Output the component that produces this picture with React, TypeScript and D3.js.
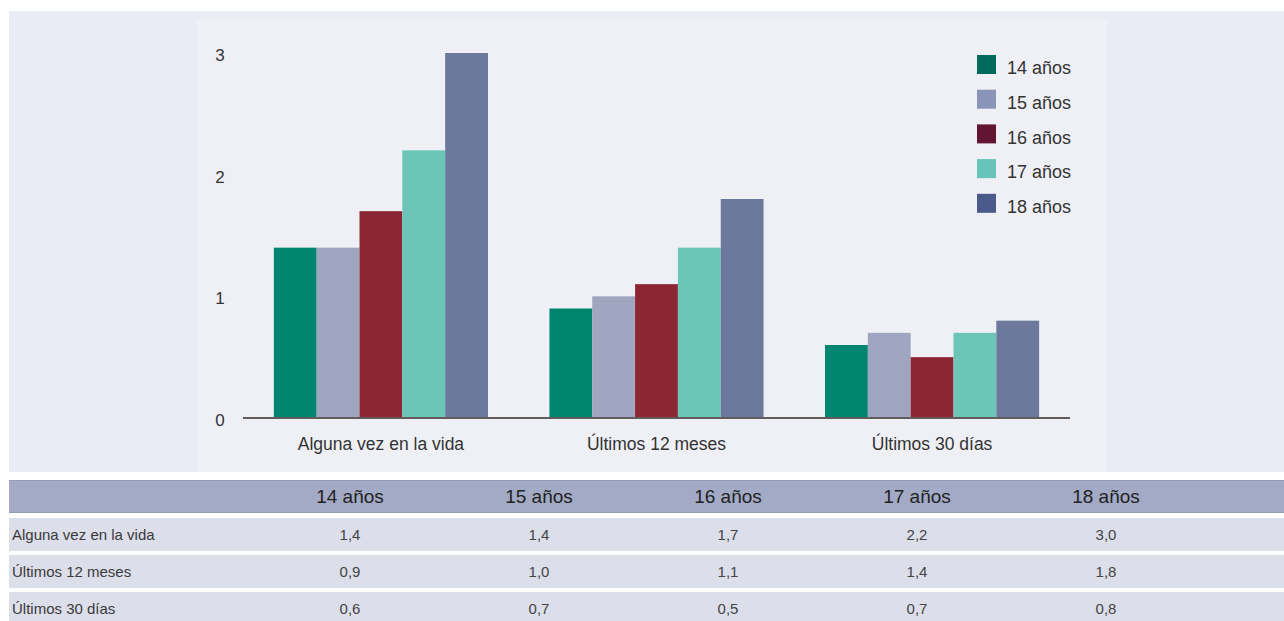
import React from "react";
import * as d3 from "d3";

const categories = ["Alguna vez en la vida", "Últimos 12 meses", "Últimos 30 días"];
const series = ["14 años", "15 años", "16 años", "17 años", "18 años"];
const values14 = [1.4, 0.9, 0.6];
const values15 = [1.4, 1.0, 0.7];
const values16 = [1.7, 1.1, 0.5];
const values17 = [2.2, 1.4, 0.7];
const values18 = [3.0, 1.8, 0.8];
const yTicks = [0, 1, 2, 3];
const barColors = ["#008570", "#a0a5c0", "#8c2633", "#6cc6b8", "#6d799c"];
const legendColors = ["#006b5a", "#8a94b8", "#621530", "#66c5b8", "#4a5a8a"];

const allValues = [values14, values15, values16, values17, values18];
const fmt = (v: number) => v.toFixed(1).replace(".", ",");

export default function App() {
  const W = 1284, H = 621;
  const y = d3.scaleLinear().domain([0, 3]).range([418, 53]);
  const x0 = d3.scaleBand<string>().domain(categories).range([243, 1070]).paddingInner(0.223).paddingOuter(0.112);
  const x1 = d3.scaleBand<string>().domain(series).range([0, x0.bandwidth()]);
  const colScale = d3.scalePoint<string>().domain(series).range([350, 1106]);
  const font = "'Liberation Sans', Arial, sans-serif";
  const headerY = 480, headerH = 33;
  const rowY = [518, 555, 592];
  const rowH = 33;

  return (
    <svg width={W} height={H} style={{ position: "absolute", left: 0, top: 0 }} fontFamily={font}>
      <rect x={0} y={0} width={W} height={H} fill="#ffffff" />
      <rect x={9} y={11} width={W - 9} height={461} fill="#e9ecf4" />
      <rect x={197} y={19} width={910} height={453} fill="#eff0f5" />

      {yTicks.map((t) => (
        <text key={t} x={220} y={y(t) + 2} dy="0.35em" fontSize={17} fill="#333" textAnchor="middle">
          {t}
        </text>
      ))}

      {categories.map((c, ci) => (
        <g key={c} transform={`translate(${x0(c)},0)`}>
          {series.map((s, si) => {
            const v = allValues[si][ci];
            return (
              <rect
                key={s}
                x={x1(s)}
                y={y(v)}
                width={x1.bandwidth()}
                height={y(0) - y(v)}
                fill={barColors[si]}
              />
            );
          })}
        </g>
      ))}

      <line x1={243} x2={1070} y1={418} y2={418} stroke="#625c5c" strokeWidth={2} />

      {categories.map((c) => (
        <text key={c} x={(x0(c) as number) + x0.bandwidth() / 2} y={444} dy="0.35em" fontSize={17.5} fill="#333" textAnchor="middle">
          {c}
        </text>
      ))}

      {series.map((s, si) => (
        <g key={s} transform={`translate(977,${55 + si * 34.7})`}>
          <rect x={0} y={0} width={19} height={19} fill={legendColors[si]} />
          <text x={30} y={13} dy="0.35em" fontSize={18} fill="#333">
            {s}
          </text>
        </g>
      ))}

      <rect x={9} y={headerY} width={W - 9} height={headerH} fill="#a3aac6" />
      <line x1={9} x2={W} y1={headerY + 0.5} y2={headerY + 0.5} stroke="#959cba" />
      <line x1={9} x2={W} y1={headerY + headerH - 0.5} y2={headerY + headerH - 0.5} stroke="#959cba" />
      {series.map((s) => (
        <text key={s} x={colScale(s)} y={headerY + headerH / 2} dy="0.35em" fontSize={19} fill="#222" textAnchor="middle">
          {s}
        </text>
      ))}

      {categories.map((c, ci) => (
        <g key={c}>
          <rect x={9} y={rowY[ci]} width={W - 9} height={rowH} fill="#dcdeea" />
          <text x={12} y={rowY[ci] + rowH / 2} dy="0.35em" fontSize={15} fill="#3a3a3a">
            {c}
          </text>
          {series.map((s, si) => (
            <text key={s} x={colScale(s)} y={rowY[ci] + rowH / 2} dy="0.35em" fontSize={15} fill="#444" textAnchor="middle">
              {fmt(allValues[si][ci])}
            </text>
          ))}
        </g>
      ))}
    </svg>
  );
}
